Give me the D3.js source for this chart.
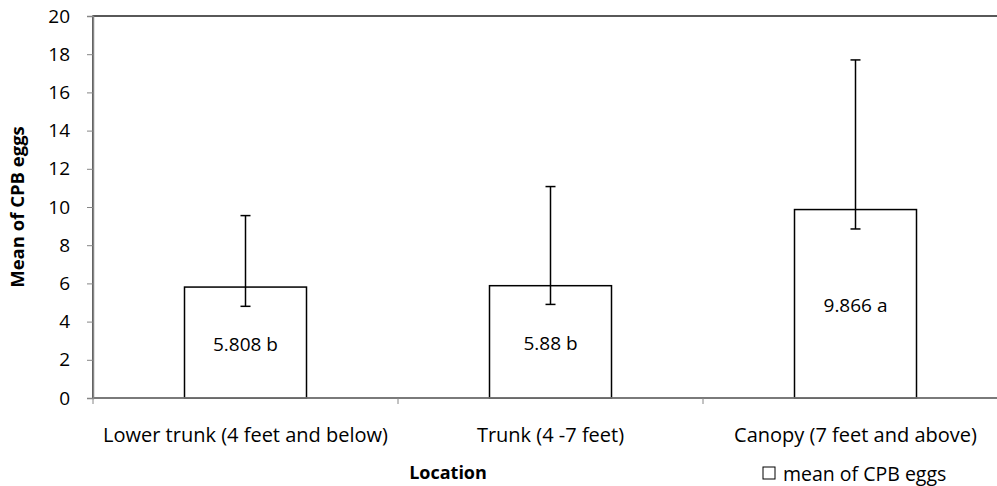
<!DOCTYPE html>
<html>
<head>
<meta charset="utf-8">
<script src="https://cdn.jsdelivr.net/npm/d3@7/dist/d3.min.js"></script>
<style>
  body { margin: 0; background: #fff; }
  text { font-family: "Open Sans", "Noto Sans", sans-serif; fill: #000; }
</style>
</head>
<body>
<svg id="chart" width="997" height="486"></svg>
<script>
// data
const categories = ['Lower trunk (4 feet and below)', 'Trunk (4 -7 feet)', 'Canopy (7 feet and above)'];
const means = [5.808, 5.88, 9.866];
const barLabels = ['5.808 b', '5.88 b', '9.866 a'];
const errLow = [4.80, 4.90, 8.85];
const errHigh = [9.55, 11.07, 17.7];
const yTicks = [0, 2, 4, 6, 8, 10, 12, 14, 16, 18, 20];

const svg = d3.select('#chart');
const margin = { top: 16, left: 93 };
const plotRight = 1008, plotBottom = 398;

// scales: band padding puts bars in the middle 40% of each category
const x = d3.scaleBand().domain(categories)
    .range([margin.left, plotRight])
    .paddingInner(0.6).paddingOuter(0.3);
const y = d3.scaleLinear().domain([0, 20]).range([plotBottom, margin.top]);

// plot area border (black)
svg.append('rect')
    .attr('x', margin.left).attr('y', margin.top)
    .attr('width', plotRight - margin.left).attr('height', plotBottom - margin.top)
    .attr('fill', 'none').attr('stroke', '#000').attr('stroke-width', 1.3);

// bars
svg.selectAll('.bar')
    .data(categories)
    .enter().append('rect')
    .attr('class', 'bar')
    .attr('x', d => x(d))
    .attr('y', (d, i) => y(means[i]))
    .attr('width', x.bandwidth())
    .attr('height', (d, i) => plotBottom - y(means[i]))
    .attr('fill', '#fff').attr('stroke', '#000').attr('stroke-width', 1.5);

// value labels, centred in each bar
svg.selectAll('.val')
    .data(categories)
    .enter().append('text')
    .attr('class', 'val')
    .attr('x', d => x(d) + x.bandwidth() / 2)
    .attr('y', (d, i) => (y(means[i]) + plotBottom) / 2 + 8)
    .attr('text-anchor', 'middle')
    .style('font-size', '19px')
    .text((d, i) => barLabels[i]);

// error bars
const err = svg.append('g').attr('stroke', '#000').attr('stroke-width', 1.5);
categories.forEach((c, i) => {
    const cx = x(c) + x.bandwidth() / 2;
    err.append('line').attr('x1', cx).attr('x2', cx).attr('y1', y(errLow[i])).attr('y2', y(errHigh[i]));
    [errLow[i], errHigh[i]].forEach(v => {
        err.append('line').attr('x1', cx - 5).attr('x2', cx + 5).attr('y1', y(v)).attr('y2', y(v));
    });
});

// y axis (gray)
const yAxis = svg.append('g')
    .attr('transform', 'translate(' + margin.left + ',0)')
    .call(d3.axisLeft(y).tickValues(yTicks).tickSize(6).tickPadding(17));
yAxis.select('.domain').attr('stroke', '#868686').attr('stroke-width', 1.5);
yAxis.selectAll('.tick line').attr('stroke', '#868686');
yAxis.selectAll('.tick text').style('font-size', '19px').attr('fill', '#000');

// x axis: ticks sit on category boundaries
const xAxis = svg.append('g')
    .attr('transform', 'translate(0,' + plotBottom + ')');
xAxis.append('line')
    .attr('x1', margin.left).attr('x2', plotRight)
    .attr('stroke', '#868686').attr('stroke-width', 1.5);
const bounds = categories.map(c => x(c) - x.step() * 0.3).concat([plotRight]);
xAxis.selectAll('.xtick')
    .data(bounds)
    .enter().append('line')
    .attr('x1', d => d).attr('x2', d => d)
    .attr('y1', 0).attr('y2', 6)
    .attr('stroke', '#868686');
xAxis.selectAll('.xlab')
    .data(categories)
    .enter().append('text')
    .attr('x', d => x(d) + x.bandwidth() / 2)
    .attr('y', 44)
    .attr('text-anchor', 'middle')
    .style('font-size', '20px')
    .text(d => d);

// axis titles
svg.append('text')
    .attr('transform', 'translate(24,' + ((margin.top + plotBottom) / 2) + ') rotate(-90)')
    .attr('text-anchor', 'middle')
    .style('font-size', '18.5px').style('font-weight', 'bold')
    .text('Mean of CPB eggs');
svg.append('text')
    .attr('x', 448).attr('y', 479)
    .attr('text-anchor', 'middle')
    .style('font-size', '18px').style('font-weight', 'bold')
    .text('Location');

// legend
svg.append('rect')
    .attr('x', 763).attr('y', 467).attr('width', 12).attr('height', 12)
    .attr('fill', '#fff').attr('stroke', '#000');
svg.append('text')
    .attr('x', 783).attr('y', 481)
    .style('font-size', '19.5px')
    .text('mean of CPB eggs');
</script>
</body>
</html>
